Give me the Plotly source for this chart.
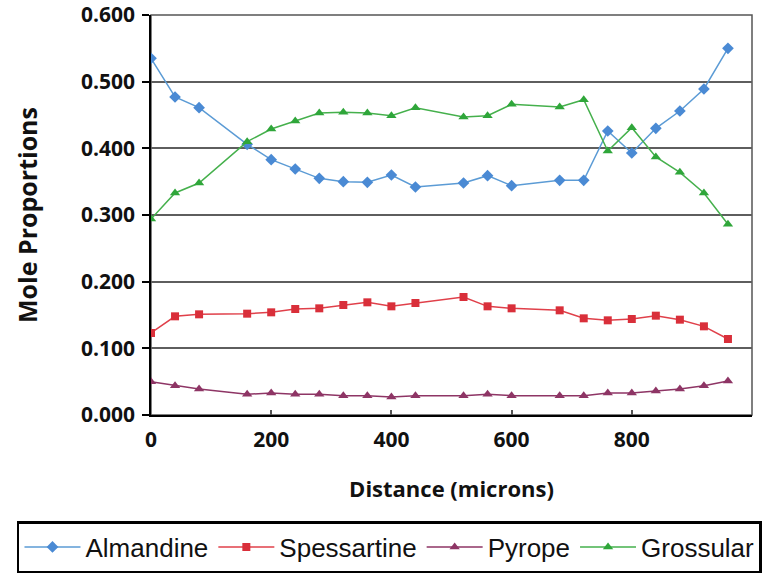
import plotly.graph_objects as go

distance = [0, 40, 80, 160, 200, 240, 280, 320, 360, 400, 440, 520, 560, 600, 680, 720, 760, 800, 840, 880, 920, 960]

almandine = [0.535, 0.477, 0.461, 0.406, 0.383, 0.369, 0.355, 0.350, 0.349, 0.360, 0.342,
             0.348, 0.359, 0.344, 0.352, 0.352, 0.426, 0.393, 0.430, 0.456, 0.489, 0.550]
spessartine = [0.123, 0.148, 0.151, 0.152, 0.154, 0.159, 0.160, 0.165, 0.169, 0.163, 0.168,
               0.177, 0.163, 0.160, 0.157, 0.145, 0.142, 0.144, 0.149, 0.143, 0.133, 0.114]
pyrope = [0.050, 0.044, 0.039, 0.031, 0.033, 0.031, 0.031, 0.029, 0.029, 0.027, 0.029,
          0.029, 0.031, 0.029, 0.029, 0.029, 0.033, 0.033, 0.036, 0.039, 0.044, 0.051]
grossular = [0.294, 0.333, 0.348, 0.410, 0.429, 0.441, 0.453, 0.454, 0.453, 0.449, 0.461,
             0.447, 0.449, 0.466, 0.462, 0.473, 0.396, 0.431, 0.387, 0.364, 0.333, 0.286]

y_ticks = [0.0, 0.1, 0.2, 0.3, 0.4, 0.5, 0.6]
x_ticks = [0, 200, 400, 600, 800, 1000]

series = [
    ("Almandine", almandine, "#5b9bd5", "#4a8ad4", "diamond", 9),
    ("Spessartine", spessartine, "#e0404a", "#d92f3a", "square", 8),
    ("Pyrope", pyrope, "#8e3565", "#8e3565", "triangle-up", 9),
    ("Grossular", grossular, "#45b04c", "#2fa63a", "triangle-up", 9),
]

fig = go.Figure()
for name, vals, lc, mc, sym, ms in series:
    fig.add_trace(go.Scatter(
        x=distance, y=vals, name=name, mode="lines+markers",
        line=dict(color=lc, width=1.5),
        marker=dict(symbol=sym, size=ms, color=mc),
    ))

tick_font = dict(family="Open Sans", size=21, color="#111111", weight="bold")

fig.update_layout(
    width=775, height=574,
    margin=dict(l=151, r=23, t=15, b=159, autoexpand=False),
    paper_bgcolor="white", plot_bgcolor="white",
    showlegend=True,
    legend=dict(
        orientation="h", x=-0.223, y=-0.265, xanchor="left", yanchor="top",
        bordercolor="black", borderwidth=2.5,
        font=dict(family="Liberation Sans, Arial", size=26, color="#111111"),
        itemwidth=56, tracegroupgap=0,
    ),
    xaxis=dict(
        range=[0, 1000], tickvals=x_ticks, ticktext=[str(v) for v in x_ticks],
        showgrid=False, zeroline=False,
        showline=True, linecolor="black", linewidth=1.5,
        ticks="inside", ticklen=5, tickcolor="#555", tickwidth=1.5,
        tickfont=tick_font, ticklabelstandoff=5,
        title=dict(text="Distance (microns)", font=dict(family="Open Sans", size=22, color="#111111", weight="bold"), standoff=30),
    ),
    yaxis=dict(
        range=[0, 0.6], tickvals=y_ticks, ticktext=[f"{v:.3f}" for v in y_ticks],
        showgrid=True, gridcolor="#5e5e5e", gridwidth=1.5, zeroline=False,
        showline=True, linecolor="black", linewidth=1.5,
        ticks="outside", ticklen=7, tickcolor="black", tickwidth=1.5,
        tickfont=tick_font, ticklabelstandoff=3,
        title=dict(text="Mole Proportions", font=dict(family="Open Sans", size=25, color="#111111", weight="bold"), standoff=36),
    ),
    shapes=[dict(type="rect", xref="paper", yref="paper", x0=0, y0=0, x1=1, y1=1,
                 line=dict(color="#555555", width=1.5), layer="below")],
)

fig.write_html("out.html")
